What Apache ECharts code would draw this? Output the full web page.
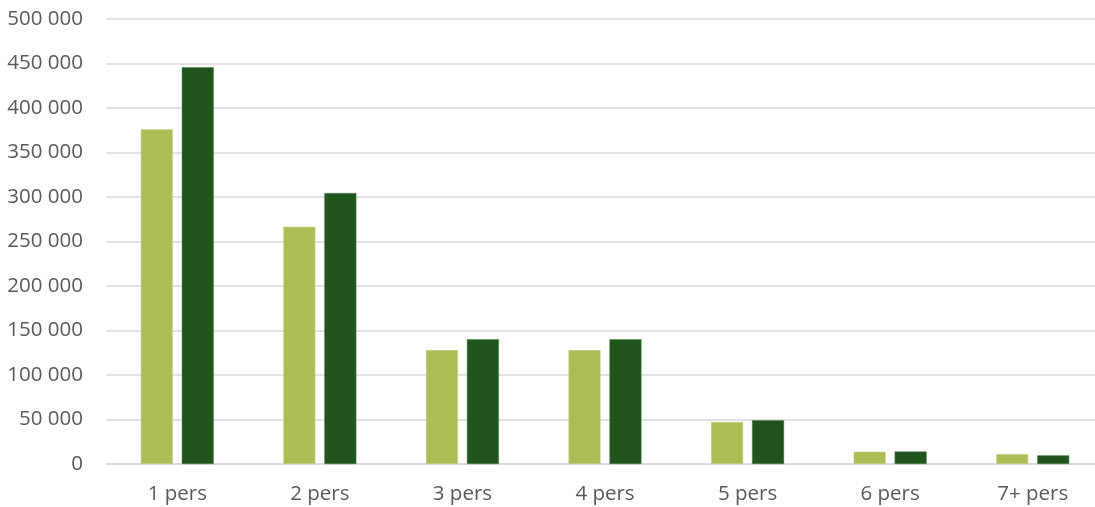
<!DOCTYPE html>
<html>
<head>
<meta charset="utf-8">
<script src="https://cdn.jsdelivr.net/npm/echarts@6/dist/echarts.min.js"></script>
<style>
  html, body { margin: 0; padding: 0; background: #fff; }
  #chart { width: 1095px; height: 507px; }
</style>
</head>
<body>
<div id="chart"></div>
<script>
  const categories = ['1 pers', '2 pers', '3 pers', '4 pers', '5 pers', '6 pers', '7+ pers']
  const seriesA = [376000, 266500, 128000, 128000, 47200, 13800, 11100]
  const seriesB = [445700, 304500, 140200, 140200, 49100, 14100, 9700]
  const yTicks = [0, 50000, 100000, 150000, 200000, 250000, 300000, 350000, 400000, 450000, 500000]

  const fmt = v => String(v).replace(/\B(?=(\d{3})+(?!\d))/g, ' ')

  const chart = echarts.init(document.getElementById('chart'))
  chart.setOption({
    animation: false,
    textStyle: { fontFamily: 'Open Sans' },
    // plot area runs a little past the right edge, as in the source image
    grid: { left: 106, width: 998, top: 19, bottom: 43, containLabel: false, outerBoundsMode: 'none' },
    xAxis: {
      type: 'category',
      data: categories,
      axisLine: { lineStyle: { color: '#d9d9d9', width: 1.5 } },
      axisTick: { show: false },
      axisLabel: { color: '#595959', fontSize: 20.5, margin: 20 }
    },
    yAxis: {
      type: 'value',
      min: yTicks[0],
      max: yTicks[yTicks.length - 1],
      interval: 50000,
      axisLine: { show: false },
      axisTick: { show: false },
      splitLine: { lineStyle: { color: '#d9d9d9', width: 1.5 } },
      axisLabel: { color: '#595959', fontSize: 20.5, margin: 23, formatter: fmt }
    },
    series: [
      {
        type: 'bar',
        data: seriesA,
        barWidth: 32,
        barGap: '28%',
        itemStyle: { color: '#abbe56', borderColor: '#c4d28a', borderWidth: 0.5 }
      },
      {
        type: 'bar',
        data: seriesB,
        barWidth: 32,
        itemStyle: { color: '#20561d', borderColor: '#4f7a4c', borderWidth: 0.5 }
      }
    ]
  })
</script>
</body>
</html>
